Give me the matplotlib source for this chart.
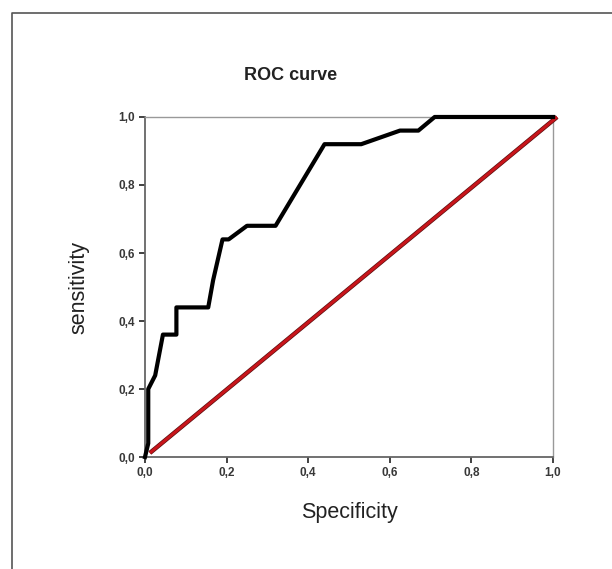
import matplotlib.pyplot as plt
from matplotlib.lines import Line2D

# ROC curve points (1 - specificity on x, sensitivity on y)
fpr = [0.0, 0.008, 0.008, 0.025, 0.044, 0.077, 0.077, 0.155, 0.167, 0.19, 0.205,
       0.25, 0.32, 0.44, 0.53, 0.625, 0.67, 0.71, 1.0]
tpr = [0.0, 0.04, 0.20, 0.24, 0.36, 0.36, 0.44, 0.44, 0.52, 0.64, 0.64,
       0.68, 0.68, 0.92, 0.92, 0.96, 0.96, 1.0, 1.0]
ref_x = [0.012, 1.01]
ref_y = [0.012, 1.0]
ticks = [0.0, 0.2, 0.4, 0.6, 0.8, 1.0]
tick_labels = ["0,0", "0,2", "0,4", "0,6", "0,8", "1,0"]

plt.rcParams['font.family'] = ['Liberation Sans', 'DejaVu Sans']

fig = plt.figure(figsize=(6.12, 5.69), dpi=100)
ax = fig.add_axes([0.2369, 0.1968, 0.6667, 0.5976])

ax.plot(ref_x, ref_y, color="#5a1010", lw=3.2, solid_capstyle="butt", clip_on=False, zorder=3)
ax.plot(ref_x, ref_y, color="#c8151b", lw=2.2, solid_capstyle="butt", clip_on=False, zorder=4)
ax.plot(fpr, tpr, color="black", lw=3.0, clip_on=False, zorder=5)

ax.set_xlim(0, 1)
ax.set_ylim(0, 1)
ax.set_xticks(ticks)
ax.set_xticklabels(tick_labels)
ax.set_yticks(ticks)
ax.set_yticklabels(tick_labels)
ax.tick_params(direction="out", length=4, width=1.3, color="#333333",
               labelsize=8.5, labelcolor="#383838", pad=3)
for lab in ax.get_xticklabels() + ax.get_yticklabels():
    lab.set_fontweight("bold")
for s in ["left", "bottom"]:
    ax.spines[s].set_color("#666666")
    ax.spines[s].set_linewidth(1.3)
for s in ["top", "right"]:
    ax.spines[s].set_color("#999999")
    ax.spines[s].set_linewidth(1.0)

ax.set_xlabel("Specificity", fontsize=15.5, color="#222222", labelpad=17)
ax.set_ylabel("sensitivity", fontsize=15.5, color="#222222", labelpad=21)
fig.text(0.474, 0.868, "ROC curve", ha="center", va="center", fontsize=13,
         fontweight="bold", color="#222222")

# outer frame that runs off the right and bottom edges
fx = 12 / 612
fy = 1 - 13 / 569
fig.add_artist(Line2D([fx, fx, 1.0], [0.0, fy, fy], transform=fig.transFigure,
                      color="#555555", lw=1.2))

fig.savefig("out.png", dpi=100)
